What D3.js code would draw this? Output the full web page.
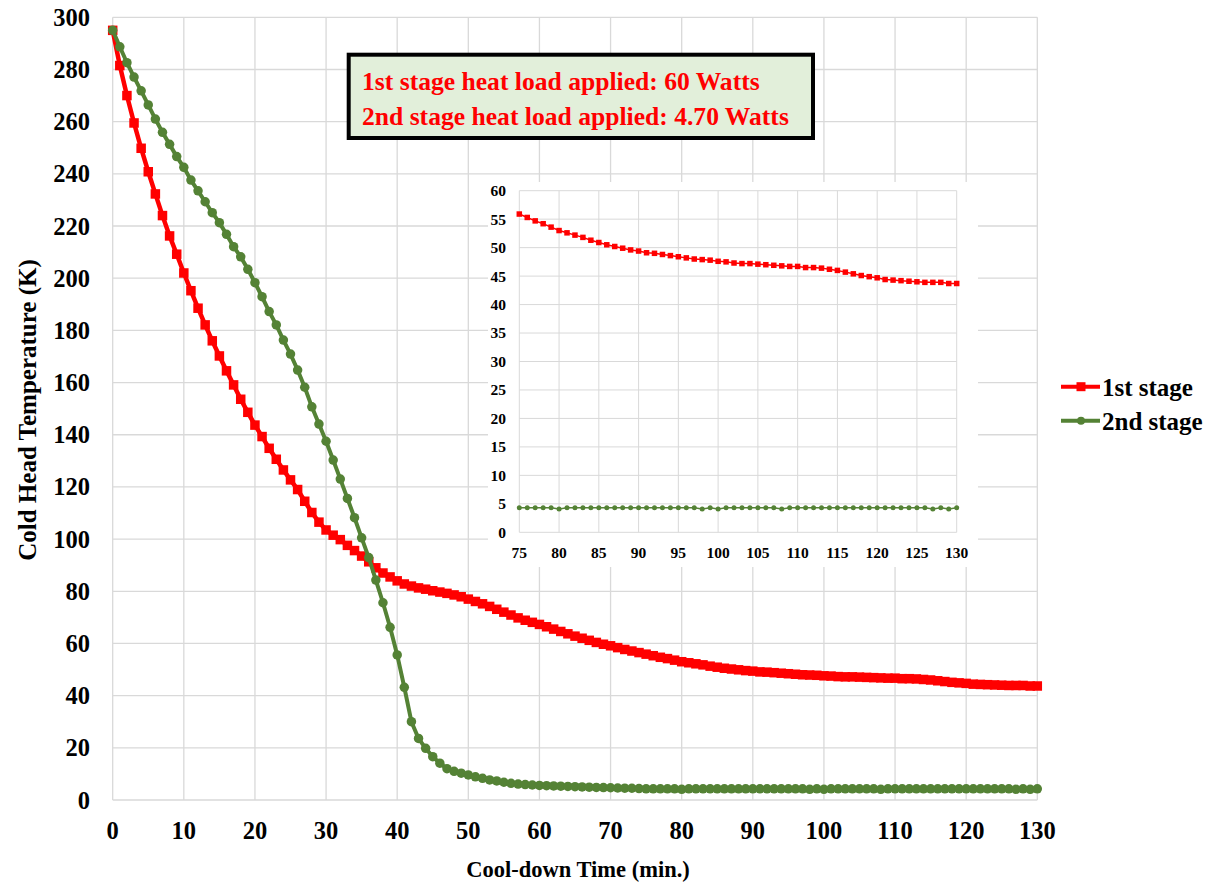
<!DOCTYPE html>
<html>
<head>
<meta charset="utf-8">
<script src="https://cdn.jsdelivr.net/npm/d3@7"></script>
<style>
  body { margin: 0; background: #fff; }
  text { font-family: "Liberation Serif", "Times New Roman", serif; font-weight: bold; }
</style>
</head>
<body>
<svg id="chart" width="1209" height="883"></svg>
<script>
// cool-down time, one reading per minute
var minutes = d3.range(0, 131);

// 1st stage temperature (K)
var stage1 = [
  295, 281.5, 270, 259.5, 249.8, 240.8, 232.3, 224, 216.2, 209.2,
  202, 195.2, 188.5, 182.1, 176, 170.2, 164.5, 159.1, 153.6, 148.6,
  143.7, 139.3, 134.8, 130.6, 126.5, 122.7, 119, 114.5, 110.2, 106.5,
  103.5, 101.5, 99.8, 97.6, 95.6, 93.5, 91.3, 89, 87, 85.5,
  84, 82.8, 82, 81.3, 80.8, 80.2, 79.7, 79.2, 78.6, 77.9,
  77, 76.1, 75.2, 74.2, 73.1, 72, 70.9, 69.8, 68.9, 68.1,
  67.3, 66.4, 65.5, 64.6, 63.7, 62.8, 62, 61.2, 60.4, 59.7,
  59.1, 58.4, 57.7, 57.1, 56.5, 55.9, 55.3, 54.7, 54.2, 53.6,
  53, 52.6, 52.2, 51.8, 51.3, 50.9, 50.5, 50.2, 49.9, 49.6,
  49.4, 49.1, 49, 48.8, 48.6, 48.4, 48.2, 48, 47.9, 47.8,
  47.6, 47.5, 47.3, 47.2, 47.2, 47.1, 47, 46.9, 46.8, 46.7,
  46.7, 46.5, 46.5, 46.4, 46.2, 46, 45.7, 45.4, 45.1, 44.9,
  44.7, 44.4, 44.3, 44.2, 44.1, 44, 43.9, 43.9, 43.9, 43.7,
  43.7
];

// 2nd stage temperature (K)
var stage2 = [
  295, 288.7, 282.6, 277.1, 271.8, 266.4, 261, 255.9, 251.3, 246.6,
  242.5, 237.6, 233.5, 229.3, 225.1, 221.3, 216.8, 212.1, 208.2, 203.4,
  198.3, 192.9, 187.2, 182.1, 176.3, 170.9, 164.8, 158.2, 150.7, 144.1,
  137.5, 130.3, 123, 115.6, 108.2, 100.5, 92.9, 84.3, 75.6, 66.2,
  55.6, 43.2, 30, 23.6, 19.8, 16.6, 14.1, 12, 11, 10.3,
  9.6, 8.9, 8.3, 7.7, 7.3, 6.8, 6.4, 6.1, 5.9, 5.75,
  5.6, 5.5, 5.4, 5.3, 5.2, 5.1, 5, 4.9, 4.8, 4.75,
  4.7, 4.6, 4.55, 4.5, 4.4, 4.3, 4.3, 4.3, 4.3, 4.3,
  4.1, 4.3, 4.3, 4.3, 4.3, 4.3, 4.3, 4.3, 4.3, 4.3,
  4.3, 4.3, 4.3, 4.3, 4.3, 4.3, 4.3, 4.3, 4.1, 4.3,
  4.1, 4.3, 4.3, 4.3, 4.3, 4.3, 4.3, 4.3, 4.1, 4.3,
  4.3, 4.3, 4.3, 4.3, 4.3, 4.3, 4.3, 4.3, 4.3, 4.3,
  4.3, 4.3, 4.3, 4.3, 4.3, 4.3, 4.3, 4.1, 4.3, 4.1,
  4.3
];

var xTicks = d3.range(0, 131, 10);
var yTicks = d3.range(0, 301, 20);
var insetXTicks = d3.range(75, 131, 5);
var insetYTicks = d3.range(0, 61, 5);

var seriesNames = ["1st stage", "2nd stage"];
var noteLines = ["1st stage heat load applied: 60 Watts", "2nd stage heat load applied: 4.70 Watts"];

var red = "#ff0000", green = "#548235", grid = "#d9d9d9";

var svg = d3.select("#chart");
svg.append("rect").attr("width", 1209).attr("height", 883).attr("fill", "#fff");

var x = d3.scaleLinear().domain([0, 130]).range([112.7, 1037.3]);
var y = d3.scaleLinear().domain([0, 300]).range([800, 17.3]);

// gridlines
var gMain = svg.append("g");
gMain.selectAll(".vg").data(xTicks).enter().append("line")
  .attr("x1", d => x(d)).attr("x2", d => x(d))
  .attr("y1", y(300)).attr("y2", y(0))
  .attr("stroke", grid).attr("stroke-width", 1.3);
gMain.selectAll(".hg").data(yTicks).enter().append("line")
  .attr("x1", x(0)).attr("x2", x(130))
  .attr("y1", d => y(d)).attr("y2", d => y(d))
  .attr("stroke", grid).attr("stroke-width", 1.3);

// tick labels
gMain.selectAll(".yl").data(yTicks).enter().append("text")
  .attr("x", 90).attr("y", d => y(d)).attr("dy", "0.35em")
  .attr("text-anchor", "end").attr("font-size", 24.5).text(d => d);
gMain.selectAll(".xl").data(xTicks).enter().append("text")
  .attr("x", d => x(d)).attr("y", 838.5)
  .attr("text-anchor", "middle").attr("font-size", 24.5).text(d => d);

// axis titles
svg.append("text").attr("x", 578).attr("y", 877).attr("text-anchor", "middle")
  .attr("font-size", 22.5).text("Cool-down Time (min.)");
svg.append("text").attr("transform", "translate(36,410) rotate(-90)")
  .attr("text-anchor", "middle").attr("font-size", 25).text("Cold Head Temperature (K)");

function drawSeries(g, xs, ys, vals, color, shape, size, lw) {
  var pts = minutes.map((m, i) => [m, vals[i]]).filter(p => p[0] >= xs.domain()[0]);
  g.append("path").datum(pts)
    .attr("fill", "none").attr("stroke", color).attr("stroke-width", lw)
    .attr("d", d3.line().x(p => xs(p[0])).y(p => ys(p[1])));
  if (shape == "square") {
    g.selectAll(null).data(pts).enter().append("rect")
      .attr("x", p => xs(p[0]) - size / 2).attr("y", p => ys(p[1]) - size / 2)
      .attr("width", size).attr("height", size).attr("fill", color);
  } else {
    g.selectAll(null).data(pts).enter().append("circle")
      .attr("cx", p => xs(p[0])).attr("cy", p => ys(p[1]))
      .attr("r", size / 2).attr("fill", color);
  }
}

drawSeries(svg.append("g"), x, y, stage1, red, "square", 9.5, 4.5);
drawSeries(svg.append("g"), x, y, stage2, green, "circle", 9.5, 4);

// note box
var gNote = svg.append("g");
gNote.append("rect").attr("x", 348.7).attr("y", 54.7).attr("width", 464.3).attr("height", 83.3)
  .attr("fill", "#e2efda").attr("stroke", "#000").attr("stroke-width", 4);
gNote.selectAll("text").data(noteLines).enter().append("text")
  .attr("x", 362).attr("y", (d, i) => 90 + i * 35)
  .attr("font-size", 25.6).attr("fill", red).text(d => d);

// inset chart
var xi = d3.scaleLinear().domain([75, 130]).range([519.3, 956.7]);
var yi = d3.scaleLinear().domain([0, 60]).range([532.3, 190.7]);
var gIn = svg.append("g");
gIn.append("rect").attr("x", 488).attr("y", 182).attr("width", 490).attr("height", 385).attr("fill", "#fff");
gIn.selectAll(".ivg").data(insetXTicks).enter().append("line")
  .attr("x1", d => xi(d)).attr("x2", d => xi(d)).attr("y1", yi(60)).attr("y2", yi(0))
  .attr("stroke", grid).attr("stroke-width", 1);
gIn.selectAll(".ihg").data(insetYTicks).enter().append("line")
  .attr("x1", xi(75)).attr("x2", xi(130)).attr("y1", d => yi(d)).attr("y2", d => yi(d))
  .attr("stroke", grid).attr("stroke-width", 1);
gIn.selectAll(".iyl").data(insetYTicks).enter().append("text")
  .attr("x", 506).attr("y", d => yi(d)).attr("dy", "0.35em")
  .attr("text-anchor", "end").attr("font-size", 15.5).text(d => d);
gIn.selectAll(".ixl").data(insetXTicks).enter().append("text")
  .attr("x", d => xi(d)).attr("y", 557.5)
  .attr("text-anchor", "middle").attr("font-size", 15.5).text(d => d);
drawSeries(gIn.append("g"), xi, yi, stage1, red, "square", 5.5, 1.5);
drawSeries(gIn.append("g"), xi, yi, stage2, green, "circle", 5, 1.5);

// legend
var gLeg = svg.append("g");
[red, green].forEach(function (c, i) {
  var ly = 386.7 + i * 34;
  gLeg.append("line").attr("x1", 1061).attr("x2", 1100).attr("y1", ly).attr("y2", ly)
    .attr("stroke", c).attr("stroke-width", 4);
  if (i == 0) {
    gLeg.append("rect").attr("x", 1076.5).attr("y", ly - 4.5).attr("width", 9).attr("height", 9).attr("fill", c);
  } else {
    gLeg.append("circle").attr("cx", 1081).attr("cy", ly).attr("r", 4).attr("fill", c);
  }
  gLeg.append("text").attr("x", 1102).attr("y", ly + 9).attr("font-size", 25).text(seriesNames[i]);
});
</script>
</body>
</html>
